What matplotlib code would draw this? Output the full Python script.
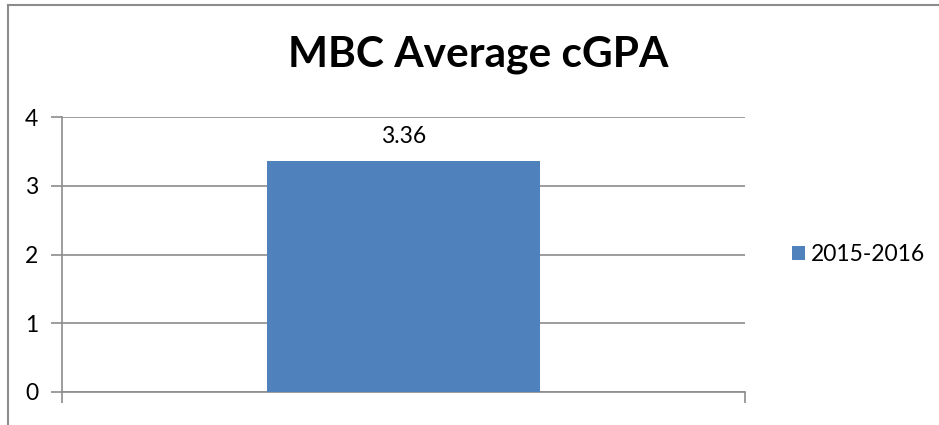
import matplotlib.pyplot as plt
from matplotlib.lines import Line2D

categories = ['']
series_name = '2015-2016'
values = [3.36]
yticks = [0, 1, 2, 3, 4]

plt.rcParams['font.family'] = ['Lato', 'DejaVu Sans']

fig = plt.figure(figsize=(9.39, 4.25), dpi=100)
ax = fig.add_axes([62 / 939, 33 / 425, 683 / 939, 275 / 425])

bars = ax.bar(range(len(values)), values, width=0.4, color='#4F81BD',
              label=series_name, zorder=3)
for b, v in zip(bars, values):
    ax.text(b.get_x() + b.get_width() / 2, v + 0.2, f'{v:.2f}',
            ha='center', va='bottom', fontsize=16.5)

ax.set_xlim(-0.5, len(values) - 0.5)
ax.set_ylim(0, 4)
ax.set_yticks(yticks)
ax.set_xticks([-0.5, len(values) - 0.5])
ax.set_xticklabels([])
ax.grid(axis='y', color='#8c8c8c', linewidth=1.2, zorder=0)
for s in ['top', 'right']:
    ax.spines[s].set_visible(False)
for s in ['left', 'bottom']:
    ax.spines[s].set_color('#8c8c8c')
    ax.spines[s].set_linewidth(1.2)
ax.tick_params(axis='y', length=8, width=1.2, color='#8c8c8c',
               labelsize=16.5, pad=9)
ax.tick_params(axis='x', length=8, width=1.2, color='#8c8c8c')

fig.text(478 / 939, 1 - 55 / 425, 'MBC Average cGPA', ha='center',
         va='center', fontsize=30.5, fontweight='bold')

ax.legend(loc='center left', bbox_to_anchor=(1.055, 0.5), frameon=False,
          fontsize=16.5, handlelength=0.6, handleheight=0.6,
          handletextpad=0.25, borderaxespad=0)

# chart area border (top and left visible)
fig.add_artist(Line2D([7.5 / 939, 1], [1 - 4.5 / 425, 1 - 4.5 / 425],
                      transform=fig.transFigure, color='#8c8c8c', lw=1.5))
fig.add_artist(Line2D([7.5 / 939, 7.5 / 939], [0, 1 - 4.5 / 425],
                      transform=fig.transFigure, color='#8c8c8c', lw=1.5))

fig.savefig('out.png', dpi=100)
